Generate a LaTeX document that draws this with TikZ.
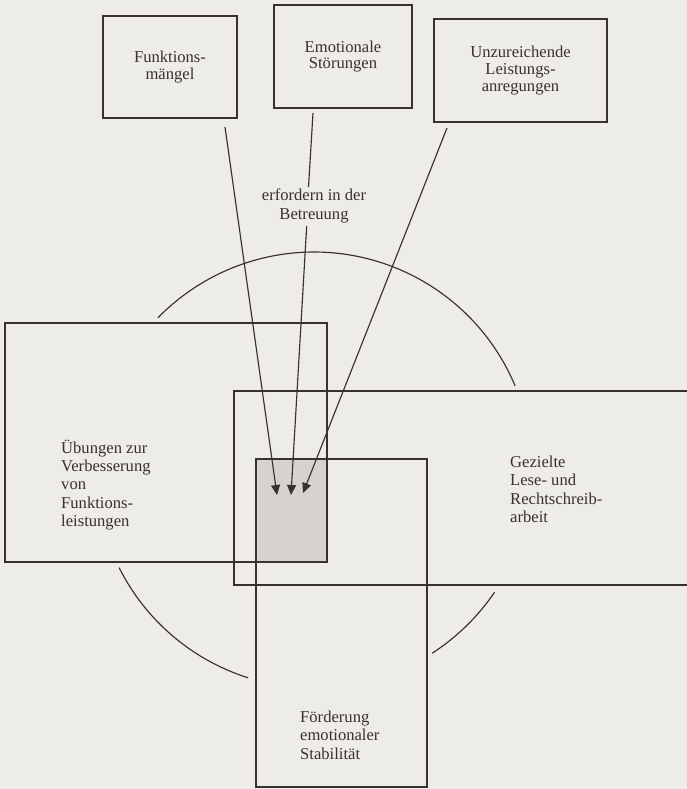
\documentclass[tikz,border=0pt]{standalone}
\usepackage{fontspec}
\setmainfont{Liberation Serif}
\usetikzlibrary{arrows.meta}
\definecolor{ink}{RGB}{58,48,46}
\definecolor{paper}{RGB}{238,236,232}
\definecolor{shadefill}{RGB}{214,210,206}
\begin{document}
\begin{tikzpicture}[x=1pt,y=-1pt,
  lineink/.style={draw=ink,line width=1.15pt},
  topbox/.style={draw=ink,line width=1.15pt,inner sep=0pt,align=center,text=ink,
    font=\fontsize{16.6}{16.8}\selectfont},
  plaintext/.style={inner sep=0pt,text=ink,font=\fontsize{16.6}{18.4}\selectfont},
  tipped/.style={-{Triangle[length=10pt,width=9pt]}}]
\useasboundingbox (0,0) rectangle (687,789);
\fill[paper] (0,0) rectangle (687,789);
% shaded intersection
\fill[shadefill] (256,459) rectangle (327,562);
% large areas
\draw[lineink] (5,323) rectangle (327,562);
\draw[lineink] (687,391) -- (234,391) -- (234,585) -- (687,585);
\draw[lineink] (256,459) rectangle (427,787);
% circle arcs
\coordinate (C) at (314,470);
\draw[lineink] (C) ++(-22.7:218) arc[start angle=-22.7, end angle=-135.7, radius=218];
\draw[lineink] (C) ++(-206.6:218) arc[start angle=-206.6, end angle=-252.4, radius=218];
\draw[lineink] (C) ++(-302.8:218) arc[start angle=-302.8, end angle=-325.9, radius=218];
% top boxes
\node[topbox, minimum width=134pt, minimum height=102pt] (fm) at (170,67) {Funktions-\\mängel};
\node[topbox, minimum width=138pt, minimum height=103pt] (es) at (343,56.5) {Emotionale\\Störungen};
\node[topbox, minimum width=173pt, minimum height=103pt] (ul) at (520.5,70.5) {Unzureichende\\Leistungs-\\anregungen};
% middle text
\node[plaintext, align=center] (eb) at (314,206) {erfordern in der\\Betreuung};
% area texts
\node[plaintext, align=left, anchor=west] (ub) at (61,485) {Übungen zur\\Verbesserung\\von\\Funktions-\\leistungen};
\node[plaintext, align=left, anchor=west] (gl) at (510,489.5) {Gezielte\\Lese- und\\Rechtschreib-\\arbeit};
\node[plaintext, align=left, anchor=west] (fe) at (300,735) {Förderung\\emotionaler\\Stabilität};
% arrows
\coordinate (s1) at (225,127);
\coordinate (t1) at (277,495);
\coordinate (s2) at (313,113);
\coordinate (m2a) at (308.5,187);
\coordinate (m2b) at (306.7,226);
\coordinate (t2) at (291,495);
\coordinate (s3) at (447,128);
\coordinate (t3) at (303,493);
\draw[lineink, tipped] (s1) -- (t1);
\draw[lineink] (s2) -- (m2a);
\draw[lineink, tipped] (m2b) -- (t2);
\draw[lineink, tipped] (s3) -- (t3);
\end{tikzpicture}
\end{document}
